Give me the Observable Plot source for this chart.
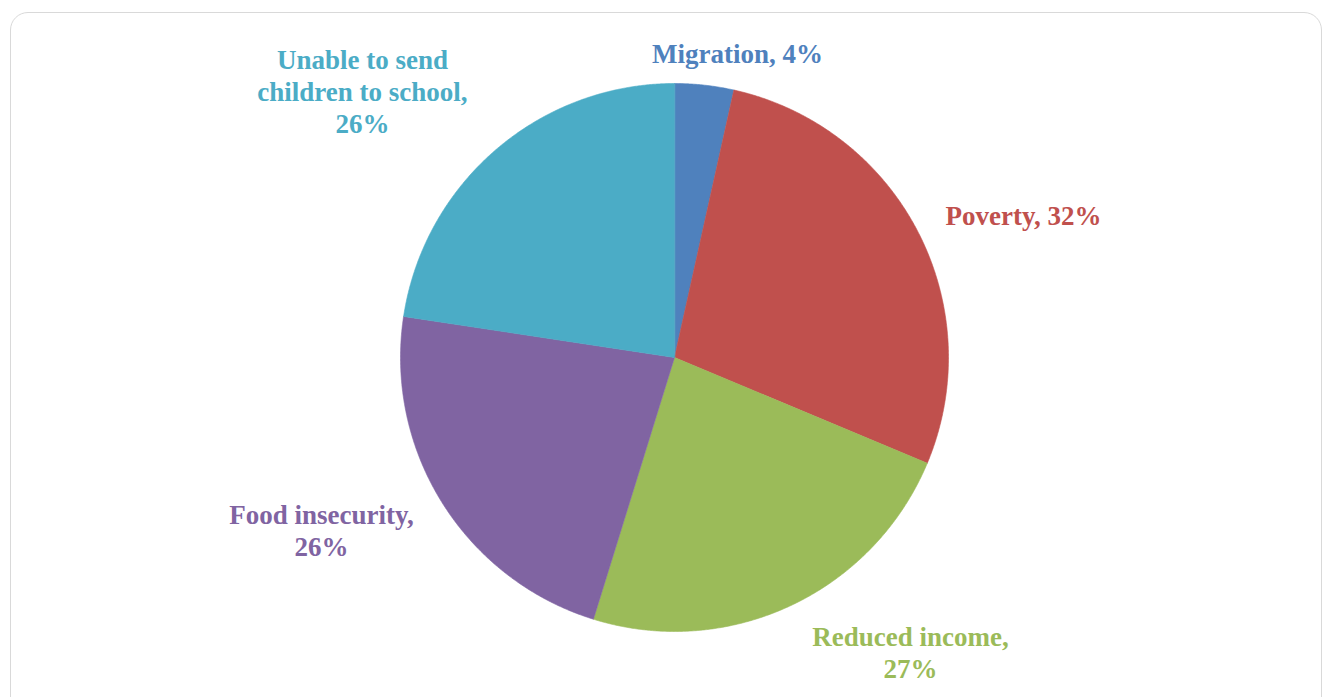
<!DOCTYPE html>
<html><head><meta charset="utf-8">
<script src="https://cdn.jsdelivr.net/npm/d3@7"></script>
<script src="https://cdn.jsdelivr.net/npm/@observablehq/plot@0.6"></script>
<style>
html,body{margin:0;padding:0;background:#fff;overflow:hidden}
#wrap{position:relative;width:1327px;height:697px}
#frame{position:absolute;left:10px;top:12px;width:1312px;height:740px;border:1.5px solid #d9d9d9;border-radius:18px;box-sizing:border-box}
#chart{position:absolute;left:0;top:0}
</style></head><body>
<div id="wrap"><div id="frame"></div><div id="chart"></div></div>
<script>
// Data
const categories = ["Migration", "Poverty", "Reduced income", "Food insecurity", "Unable to send children to school"];
const values = [4, 32, 27, 26, 26];
const labelTexts = ["Migration, 4%", "Poverty, 32%", "Reduced income,\n27%", "Food insecurity,\n26%", "Unable to send\nchildren to school,\n26%"];
const colors = ["#4F81BD", "#C0504D", "#9BBB59", "#8064A2", "#4BACC6"];

// Layout (label anchors in unit-circle coordinates)
const labelX = [0.230, 1.274, 0.861, -1.288, -1.139];
const labelY = [1.112, 0.522, -1.075, -0.630, 0.973];

const arcs = d3.pie().sort(null).value(d => d.value)(categories.map((c, i) => ({cat: c, value: values[i]})));
const pts = [];
for (const a of arcs) {
  const cat = a.data.cat;
  pts.push({cat, x: 0, y: 0});
  const n = Math.max(2, Math.ceil((a.endAngle - a.startAngle) / 0.005));
  for (let k = 0; k <= n; k++) {
    const t = a.startAngle + (a.endAngle - a.startAngle) * k / n;
    pts.push({cat, x: Math.sin(t), y: Math.cos(t)});
  }
}
const labelRows = categories.map((c, i) => ({cat: c, text: labelTexts[i], x: labelX[i], y: labelY[i]}));

const chart = Plot.plot({
  width: 1327,
  height: 697,
  margin: 0,
  style: {background: "transparent", overflow: "visible"},
  x: {domain: [-1, 1], range: [400, 948], axis: null},
  y: {domain: [-1, 1], range: [631, 83], axis: null},
  color: {domain: categories, range: colors},
  marks: [
    Plot.line(pts, {x: "x", y: "y", z: "cat", fill: "cat", stroke: "cat", strokeWidth: 0.6, curve: "linear-closed"}),
    Plot.text(labelRows, {x: "x", y: "y", text: "text", fill: "cat", fontSize: 27, fontWeight: "bold",
      fontFamily: "Liberation Serif", lineHeight: 1.185, textAnchor: "middle", lineAnchor: "middle"})
  ]
});
document.getElementById("chart").appendChild(chart);
</script>
</body></html>
